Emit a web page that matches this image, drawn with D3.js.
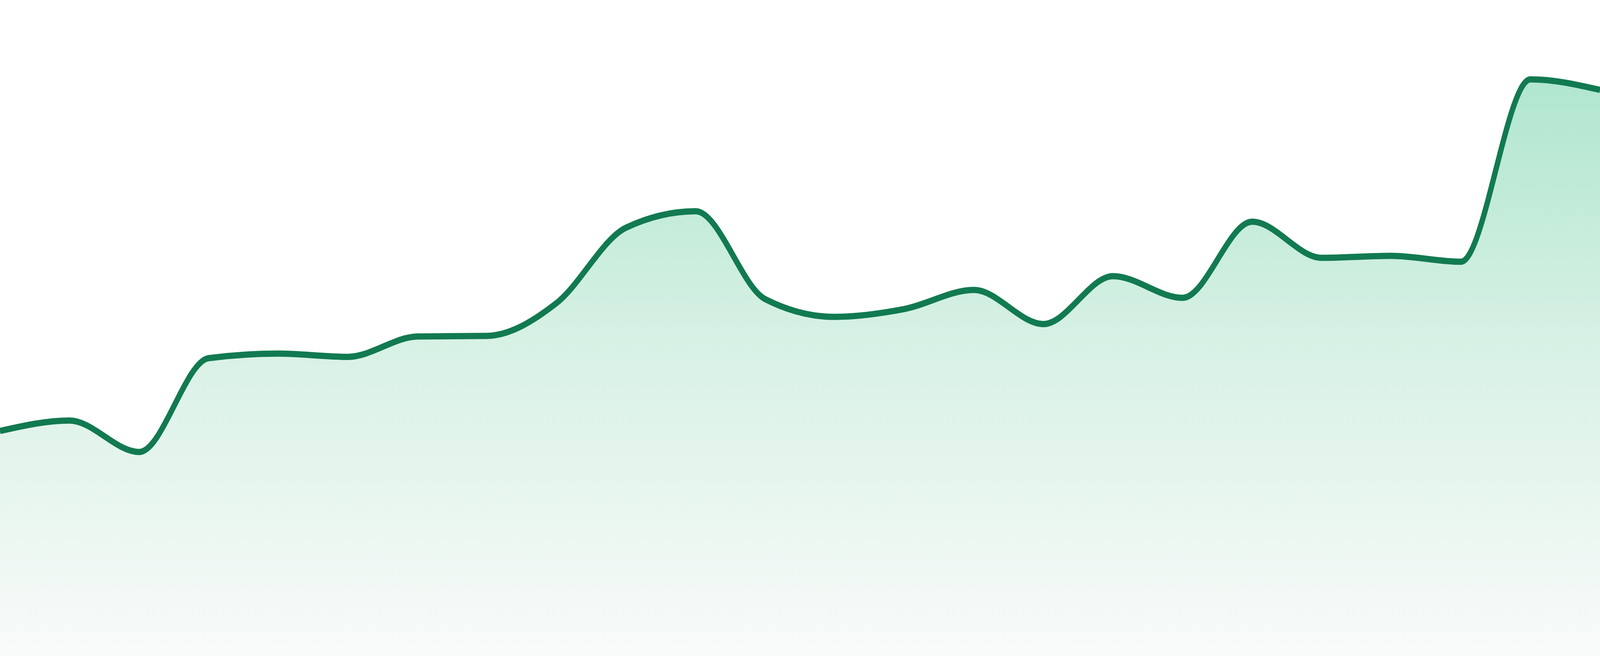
<!DOCTYPE html>
<html>
<head>
<meta charset="utf-8">
<script src="https://cdn.jsdelivr.net/npm/d3@7"></script>
<style>
  html, body { margin: 0; padding: 0; background: #fff; overflow: hidden; }
  #chart svg { display: block; width: 100vw; height: 100vh; }
</style>
</head>
<body>
<div id="chart"></div>
<script>
// categories (one per point, not shown as labels)
var categories = ["01", "02", "03", "04", "05", "06", "07", "08", "09", "10", "11", "12",
                  "13", "14", "15", "16", "17", "18", "19", "20", "21", "22", "23", "24"];
// series values
var values = [34.3, 35.9, 31.1, 45.4, 46.1, 45.6, 48.7, 48.8, 53.8, 65.3, 67.8, 54.4,
              51.7, 52.9, 55.8, 50.6, 57.9, 54.6, 66.2, 60.7, 61.0, 60.1, 87.9, 86.3];
var yDomain = [0, 100];

// drawing units; the svg is stretched over the whole window
var w = 4800;
var h = 1680;

var data = categories.map(function(c, i) { return {cat: c, v: values[i]}; });

var xScale = d3.scalePoint()
  .domain(categories)
  .range([0, w]);

var yScale = d3.scaleLinear()
  .domain(yDomain)
  .range([h, 0]);

var svg = d3.select("#chart")
  .append("svg")
  .attr("viewBox", "0 0 " + w + " " + h)
  .attr("preserveAspectRatio", "none");

// fill gradient
var grad = svg.append("defs")
  .append("linearGradient")
  .attr("id", "areaFill")
  .attr("gradientUnits", "userSpaceOnUse")
  .attr("x1", 0).attr("y1", 0)
  .attr("x2", 0).attr("y2", h);
grad.append("stop").attr("offset", 0).attr("stop-color", "#ace4cc");
grad.append("stop").attr("offset", 0.12).attr("stop-color", "#b0e6cf");
grad.append("stop").attr("offset", 0.52).attr("stop-color", "#d7f1e5");
grad.append("stop").attr("offset", 1).attr("stop-color", "#f9fbfa");

var area = d3.area()
  .curve(d3.curveMonotoneX)
  .x(function(d) { return xScale(d.cat); })
  .y0(yScale(yDomain[0]))
  .y1(function(d) { return yScale(d.v); });

var line = d3.line()
  .curve(d3.curveMonotoneX)
  .x(function(d) { return xScale(d.cat); })
  .y(function(d) { return yScale(d.v); });

svg.append("path")
  .datum(data)
  .attr("d", area)
  .attr("fill", "url(#areaFill)");

svg.append("path")
  .datum(data)
  .attr("d", line)
  .attr("fill", "none")
  .attr("stroke", "#127a50")
  .attr("stroke-width", 16)
  .attr("stroke-linejoin", "round");
</script>
</body>
</html>
